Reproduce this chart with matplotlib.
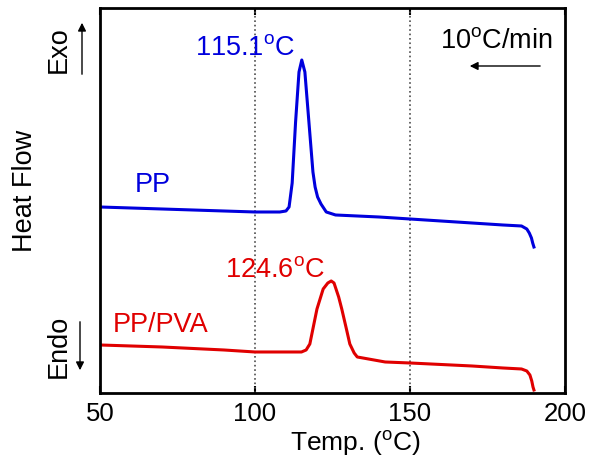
import matplotlib
matplotlib.use('Agg')
import matplotlib.pyplot as plt
import numpy as np

plt.rcParams['font.family'] = ['Liberation Sans', 'DejaVu Sans']
plt.rcParams['mathtext.fontset'] = 'custom'
plt.rcParams['mathtext.rm'] = 'Liberation Sans'

# PP cooling curve (temperature in C, heat flow in arbitrary units)
pp_temp = [50, 70, 90, 100, 108, 110, 111, 112, 113.1, 114.2, 115.1, 116.1,
           117.4, 118.7, 119.4, 120.2, 121.3, 123, 126, 140, 150, 170, 180,
           186, 187.7, 188.5, 189.2, 189.6, 190]
pp_flow = [186, 184, 182, 181, 181, 182, 186, 210, 271, 321, 333, 321,
           271, 221, 206, 196, 189, 181, 178, 176, 174, 170, 168,
           167, 164, 160, 155, 150, 146]

# PP/PVA cooling curve
pva_temp = [50, 70, 90, 100, 110, 115, 116.5, 117.7, 120, 122, 123.5, 124.6,
            125.5, 127, 128, 129.5, 130.6, 132, 133, 142, 150, 170, 180, 186,
            187.7, 188.7, 189.3, 189.7, 190]
pva_flow = [48, 46, 43, 41, 41, 41, 43, 49, 84, 104, 110, 112,
            110, 96, 84, 64, 49, 40, 36, 31, 30, 27, 25, 24,
            22, 18, 12, 6, 3]

xticks = [50, 100, 150, 200]
deg = r'$^{\mathrm{o}}$'
fs = 19.5

fig = plt.figure(figsize=(5.9, 4.64), dpi=100)
ax = fig.add_axes([0.1695, 0.1509, 0.788, 0.8297])

ax.axvline(100, color='0.3', ls=':', lw=1.2)
ax.axvline(150, color='0.3', ls=':', lw=1.2)

ax.plot(pp_temp, pp_flow, color='#0000dd', lw=2.2)
ax.plot(pva_temp, pva_flow, color='#e00000', lw=2.2)

ax.set_xlim(50, 200)
ax.set_ylim(0, 385)
ax.set_xticks(xticks)
ax.set_yticks([])
ax.tick_params(axis='x', direction='in', length=5, width=1.5, top=True,
               labelsize=18.5, pad=6)
for s in ax.spines.values():
    s.set_linewidth(2)

ax.set_xlabel('Temp. (' + deg + 'C)', fontsize=19)
ax.xaxis.set_label_coords(0.55, -0.088)

# peak and curve labels
ax.text(96.8, 346, '115.1' + deg + 'C', color='#0000dd', fontsize=fs,
        ha='center', va='center')
ax.text(106.5, 124, '124.6' + deg + 'C', color='#e00000', fontsize=fs,
        ha='center', va='center')
ax.text(61.3, 209, 'PP', color='#0000dd', fontsize=fs, va='center')
ax.text(54.2, 69, 'PP/PVA', color='#e00000', fontsize=fs, va='center')

# cooling rate
ax.text(177.8, 353, '10' + deg + 'C/min', fontsize=fs, ha='center',
        va='center')
ax.annotate('', xy=(168.4, 327), xytext=(192.9, 327),
            arrowprops=dict(arrowstyle='-|>', color='k', lw=1,
                            mutation_scale=12))

# y axis annotations
fig.text(25 / 590, 1 - 191 / 464, 'Heat Flow', rotation=90, fontsize=fs,
         ha='center', va='center')
fig.text(59 / 590, 1 - 50 / 464, 'Exo', rotation=90, fontsize=fs,
         ha='center', va='center')
fig.text(59 / 590, 1 - 346 / 464, 'Endo', rotation=90, fontsize=fs,
         ha='center', va='center')
ax.annotate('', xy=(82 / 590, 1 - 21 / 464), xytext=(82 / 590, 1 - 78 / 464),
            xycoords='figure fraction', textcoords='figure fraction',
            arrowprops=dict(arrowstyle='-|>', color='k', lw=1,
                            mutation_scale=12))
ax.annotate('', xy=(80 / 590, 1 - 374 / 464), xytext=(80 / 590, 1 - 320 / 464),
            xycoords='figure fraction', textcoords='figure fraction',
            arrowprops=dict(arrowstyle='-|>', color='k', lw=1,
                            mutation_scale=12))

fig.savefig('out.png', dpi=100)
